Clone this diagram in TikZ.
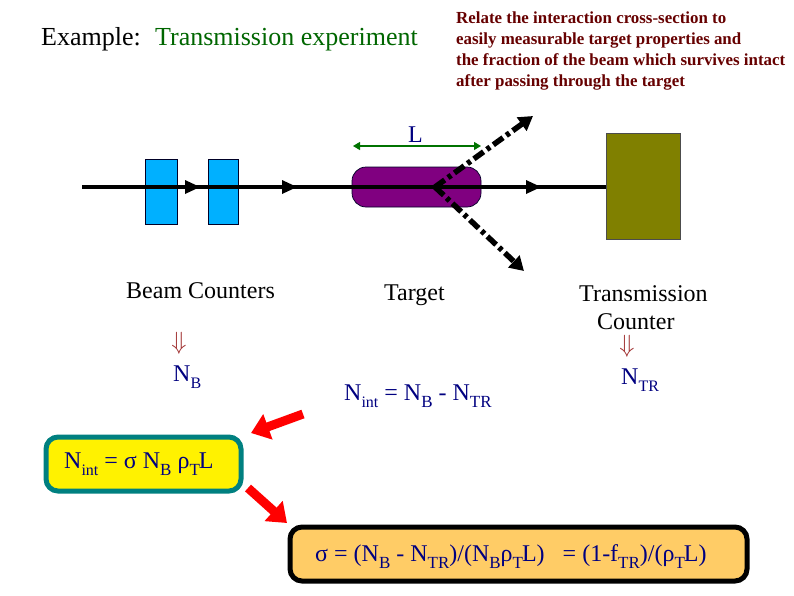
\documentclass[tikz,border=0pt]{standalone}
\usepackage{fontspec}
\setmainfont{Liberation Serif}
\usetikzlibrary{arrows.meta}
\definecolor{navyt}{HTML}{000080}
\definecolor{darkr}{HTML}{660000}
\definecolor{greent}{HTML}{006600}
\definecolor{bluebox}{HTML}{00B0FF}
\definecolor{teal1}{HTML}{008080}
\definecolor{orangebox}{HTML}{FFCC66}
\definecolor{arrowred}{HTML}{A03030}
\definecolor{targetc}{HTML}{800080}
\definecolor{olivec}{HTML}{808000}
\newcommand{\lowtxt}[1]{\raisebox{-0.32em}{\fontsize{17}{17}\selectfont #1}}
\newcommand{\smalllow}[1]{\raisebox{-0.32em}{\fontsize{16}{16}\selectfont #1}}
\newcommand{\dnarrow}{\fontsize{27}{27}\selectfont$\Downarrow$}
\tikzset{
  txt/.style={inner sep=0pt,anchor=base west,font=\fontsize{24}{27}\selectfont},
  bigtxt/.style={txt,font=\fontsize{26}{27}\selectfont},
  eqn/.style={txt,text=navyt},
  dn/.style={inner sep=0pt,anchor=center,text=arrowred},
  beam/.style={line width=4pt,black},
  tri/.style={fill=black,draw=none},
  scatter/.style={line width=5.5pt,black,dash pattern=on 12pt off 4pt on 4pt off 4pt,-{Triangle[length=14pt,width=16pt]}},
  redarrow/.style={line width=9pt,red,-{Triangle[length=18pt,width=26pt]}},
  counter/.style={draw=black!70!navyt,line width=0.7pt,fill=bluebox,inner sep=0pt},
}
\begin{document}
\begin{tikzpicture}[x=1pt,y=-1pt]
\useasboundingbox (0,0) rectangle (794,595);
% beam counters and target
\node[counter,minimum width=32pt,minimum height=65pt] (bc1) at (161,191.5) {};
\node[counter,minimum width=30pt,minimum height=65pt] (bc2) at (223.5,191.5) {};
\node[draw=black!70!navyt,line width=0.7pt,fill=targetc,rounded corners=14pt,minimum width=129pt,minimum height=40pt,inner sep=0pt] (target) at (416.5,187) {};
\node[draw=black!70,line width=0.7pt,fill=olivec,minimum width=74pt,minimum height=106pt,inner sep=0pt] (tc) at (643,186) {};
% beam
\coordinate (start) at (82,187);
\draw[beam] (start) -- (start -| tc.west);
\fill[tri] (185,180) -- (200,187) -- (185,194) -- cycle;
\fill[tri] (282,180) -- (297,187) -- (282,194) -- cycle;
\fill[tri] (526,180) -- (541,187) -- (526,194) -- cycle;
% scattered
\coordinate (vertex) at (435,187);
\coordinate (up) at (533,116);
\coordinate (down) at (524,271);
\draw[scatter] (vertex) -- (up);
\draw[scatter] (vertex) -- (down);
% L
\coordinate (la) at (353,146);
\coordinate (lb) at (481,146);
\draw[{Triangle[length=7pt,width=8pt]}-{Triangle[length=7pt,width=8pt]},line width=1.1pt,green!45!black] (la) -- (lb);
\node[txt,text=navyt] (ltext) at (408,142) {L};
% texts
\node[bigtxt] (title) at (41,45) {Example:\hspace{0.55em}\textcolor{greent}{Transmission experiment}};
\node[inner sep=0pt,anchor=north west,align=left,text=darkr,font=\fontsize{16.9}{20.7}\selectfont\bfseries] (rel) at (456,12) {Relate the interaction cross-section to\\easily measurable target properties and\\the fraction of the beam which survives intact\\after passing through the target};
\node[txt] (bclabel) at (126,298) {Beam Counters};
\node[txt] (tlabel) at (384,300) {Target};
\node[txt] (trlabel) at (579,301) {Transmission};
\node[txt] (trlabel2) at (597,329) {Counter};
\node[dn] (d1) at (179,343) {\dnarrow};
\node[dn] (d2) at (627,346) {\dnarrow};
\node[eqn] (nb) at (173,381) {N\smalllow{B}};
\node[eqn] (ntr) at (621,384) {N\smalllow{TR}};
\node[eqn] (nint) at (344,400) {N\smalllow{int} = N\lowtxt{B} - N\lowtxt{TR}};
% boxes
\node[draw=teal1,line width=5pt,fill=yellow,rounded corners=12pt,minimum width=195pt,minimum height=54pt,inner sep=0pt] (ybox) at (143.5,464) {};
\node[draw=black,line width=5pt,fill=orangebox,rounded corners=12pt,minimum width=457pt,minimum height=54pt,inner sep=0pt] (obox) at (518.5,554) {};
\node[eqn] (yeq) at (64,468) {N\smalllow{int} = σ N\lowtxt{B} ρ\lowtxt{T}\kern-1ptL};
\node[eqn] (oeq) at (315,561) {σ = (N\lowtxt{B} - N\lowtxt{TR})/(N\lowtxt{B}ρ\lowtxt{T}\kern-1ptL)\hspace{0.5em} = (1-f\lowtxt{TR})/(ρ\lowtxt{T}\kern-1ptL)};
% red arrows
\coordinate (r1a) at (303,414);
\coordinate (r1b) at (251,433);
\coordinate (r2a) at (248,488);
\coordinate (r2b) at (287,523);
\draw[redarrow] (r1a) -- (r1b);
\draw[redarrow] (r2a) -- (r2b);
\end{tikzpicture}
\end{document}
